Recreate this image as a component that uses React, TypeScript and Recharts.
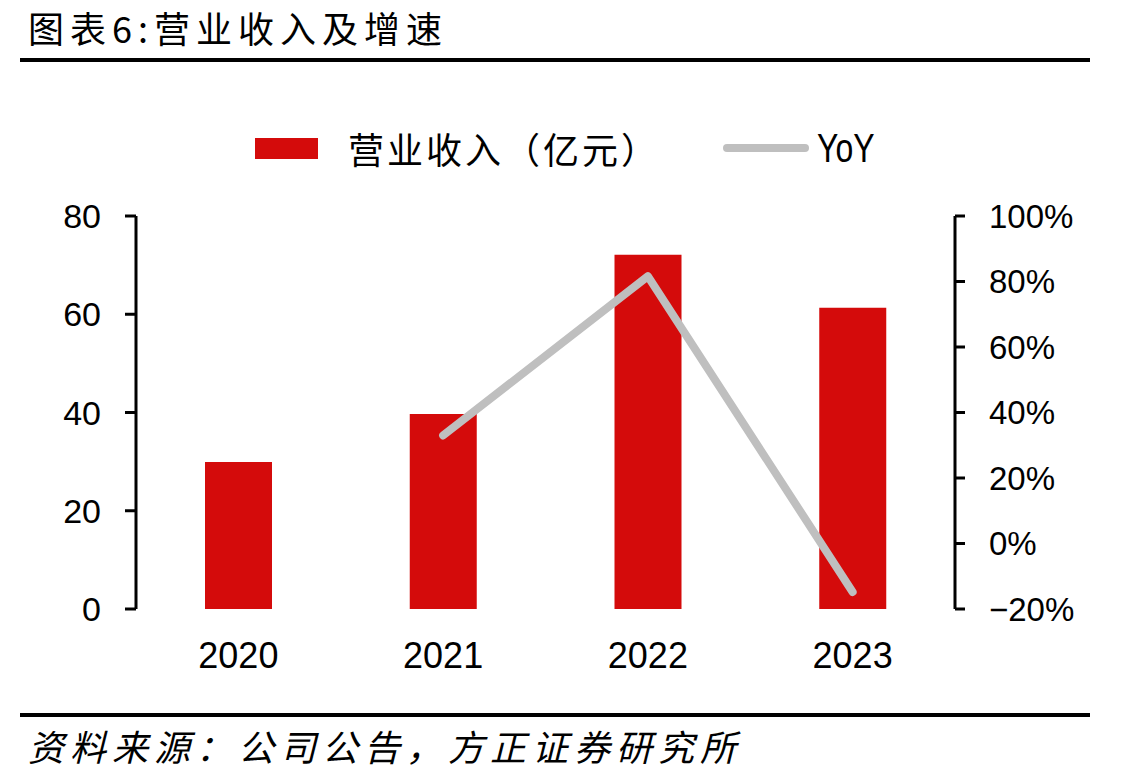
import {
  Bar,
  ComposedChart,
  Legend,
  Line,
  XAxis,
  YAxis,
} from 'recharts';

const years = ['2020', '2021', '2022', '2023'];
const revenue = [29.9, 39.7, 72.1, 61.3]; // 亿元
const yoy: (number | null)[] = [null, 33.0, 81.6, -14.8]; // %
const leftTicks = [0, 20, 40, 60, 80];
const rightTicks = [-20, 0, 20, 40, 60, 80, 100];
const edgeTicks = [0, 1, 2, 3, 4];

const data = years.map((year, i) => ({
  year,
  revenue: revenue[i],
  yoy: yoy[i],
}));

const RED = '#D40B0B';
const GREY = '#BFBFBF';
const CJK = '"Noto Sans CJK SC", sans-serif';
const NUM = '"Liberation Sans", Arial, sans-serif';

const axisLine = { stroke: '#000', strokeWidth: 3 };
const tickLine = { stroke: '#000', strokeWidth: 3 };

const fmtPct = (v: number) => (v < 0 ? `\u2212${Math.abs(v)}%` : `${v}%`);

function LegendContent(props: any) {
  // bar swatch first, then the line
  const payload = [...(props.payload || [])].sort(
    (a: any, b: any) => (a.type === 'rect' ? 0 : 1) - (b.type === 'rect' ? 0 : 1),
  );
  return (
    <div style={{ display: 'flex', alignItems: 'center', height: 40, paddingLeft: 255 }}>
      {payload.map((entry: any) =>
        entry.type === 'rect' ? (
          <div key={entry.value} style={{ display: 'flex', alignItems: 'center' }}>
            <div style={{ width: 63, height: 21, background: entry.color }} />
            <span
              style={{
                marginLeft: 30,
                fontFamily: CJK,
                fontSize: 36,
                letterSpacing: 3,
                color: '#000',
              }}
            >
              {entry.value}
            </span>
          </div>
        ) : (
          <div key={entry.value} style={{ display: 'flex', alignItems: 'center', marginLeft: 63 }}>
            <div style={{ width: 86, height: 8, borderRadius: 4, background: entry.color }} />
            <span
              style={{
                marginLeft: 8,
                fontFamily: NUM,
                fontSize: 40,
                color: '#000',
                display: 'inline-block',
                transform: 'scaleX(0.8)',
                transformOrigin: 'left center',
              }}
            >
              {entry.value}
            </span>
          </div>
        ),
      )}
    </div>
  );
}

export default function App() {
  return (
    <div
      style={{
        position: 'absolute',
        left: 0,
        top: 0,
        width: 1137,
        height: 784,
        background: '#fff',
        overflow: 'hidden',
      }}
    >
      <ComposedChart
        width={1137}
        height={784}
        data={data}
        margin={{ top: 216, right: 0, bottom: 115, left: 0 }}
        barCategoryGap={0}
      >
        {/* tick marks on the category boundaries */}
        <XAxis
          xAxisId="edges"
          type="number"
          domain={[0, 4]}
          ticks={edgeTicks}
          allowDataOverflow
          height={0}
          tick={false}
          tickSize={11}
          axisLine={axisLine}
          tickLine={tickLine}
        />
        <XAxis
          dataKey="year"
          height={60}
          axisLine={false}
          tickLine={false}
          tickSize={0}
          tickMargin={33}
          tick={{ fill: '#000', fontSize: 36, fontFamily: NUM }}
        />
        <YAxis
          yAxisId="left"
          width={136}
          domain={[0, 80]}
          ticks={leftTicks}
          tickSize={11}
          tickMargin={24}
          axisLine={axisLine}
          tickLine={tickLine}
          tick={{ fill: '#000', fontSize: 34, fontFamily: NUM }}
        />
        <YAxis
          yAxisId="right"
          orientation="right"
          width={182}
          domain={[-20, 100]}
          ticks={rightTicks}
          tickFormatter={fmtPct}
          tickSize={10}
          tickMargin={24}
          axisLine={axisLine}
          tickLine={tickLine}
          tick={{ fill: '#000', fontSize: 33, fontFamily: NUM, textAnchor: 'start' }}
        />
        <Legend
          verticalAlign="middle"
          align="center"
          content={<LegendContent />}
          wrapperStyle={{ top: 128, left: 0, width: 1137, margin: 0 }}
        />
        <Bar
          yAxisId="left"
          dataKey="revenue"
          name="营业收入（亿元）"
          fill={RED}
          barSize={67}
          legendType="rect"
          isAnimationActive={false}
        />
        <Line
          yAxisId="right"
          dataKey="yoy"
          name="YoY"
          stroke={GREY}
          strokeWidth={8}
          strokeLinecap="round"
          strokeLinejoin="round"
          dot={false}
          activeDot={false}
          legendType="line"
          isAnimationActive={false}
        />
      </ComposedChart>

      <div
        style={{
          position: 'absolute',
          left: 28,
          top: 5,
          fontFamily: CJK,
          fontSize: 36,
          letterSpacing: 6,
          lineHeight: '44px',
          color: '#000',
        }}
      >
        图表6:营业收入及增速
      </div>
      <div style={{ position: 'absolute', left: 20, top: 58, width: 1070, height: 4, background: '#000' }} />
      <div style={{ position: 'absolute', left: 20, top: 713, width: 1070, height: 4, background: '#000' }} />
      <div
        style={{
          position: 'absolute',
          left: 28,
          top: 723,
          fontFamily: CJK,
          fontSize: 36,
          fontStyle: 'italic',
          letterSpacing: 6,
          lineHeight: '44px',
          color: '#000',
        }}
      >
        资料来源：公司公告，方正证券研究所
      </div>
    </div>
  );
}
